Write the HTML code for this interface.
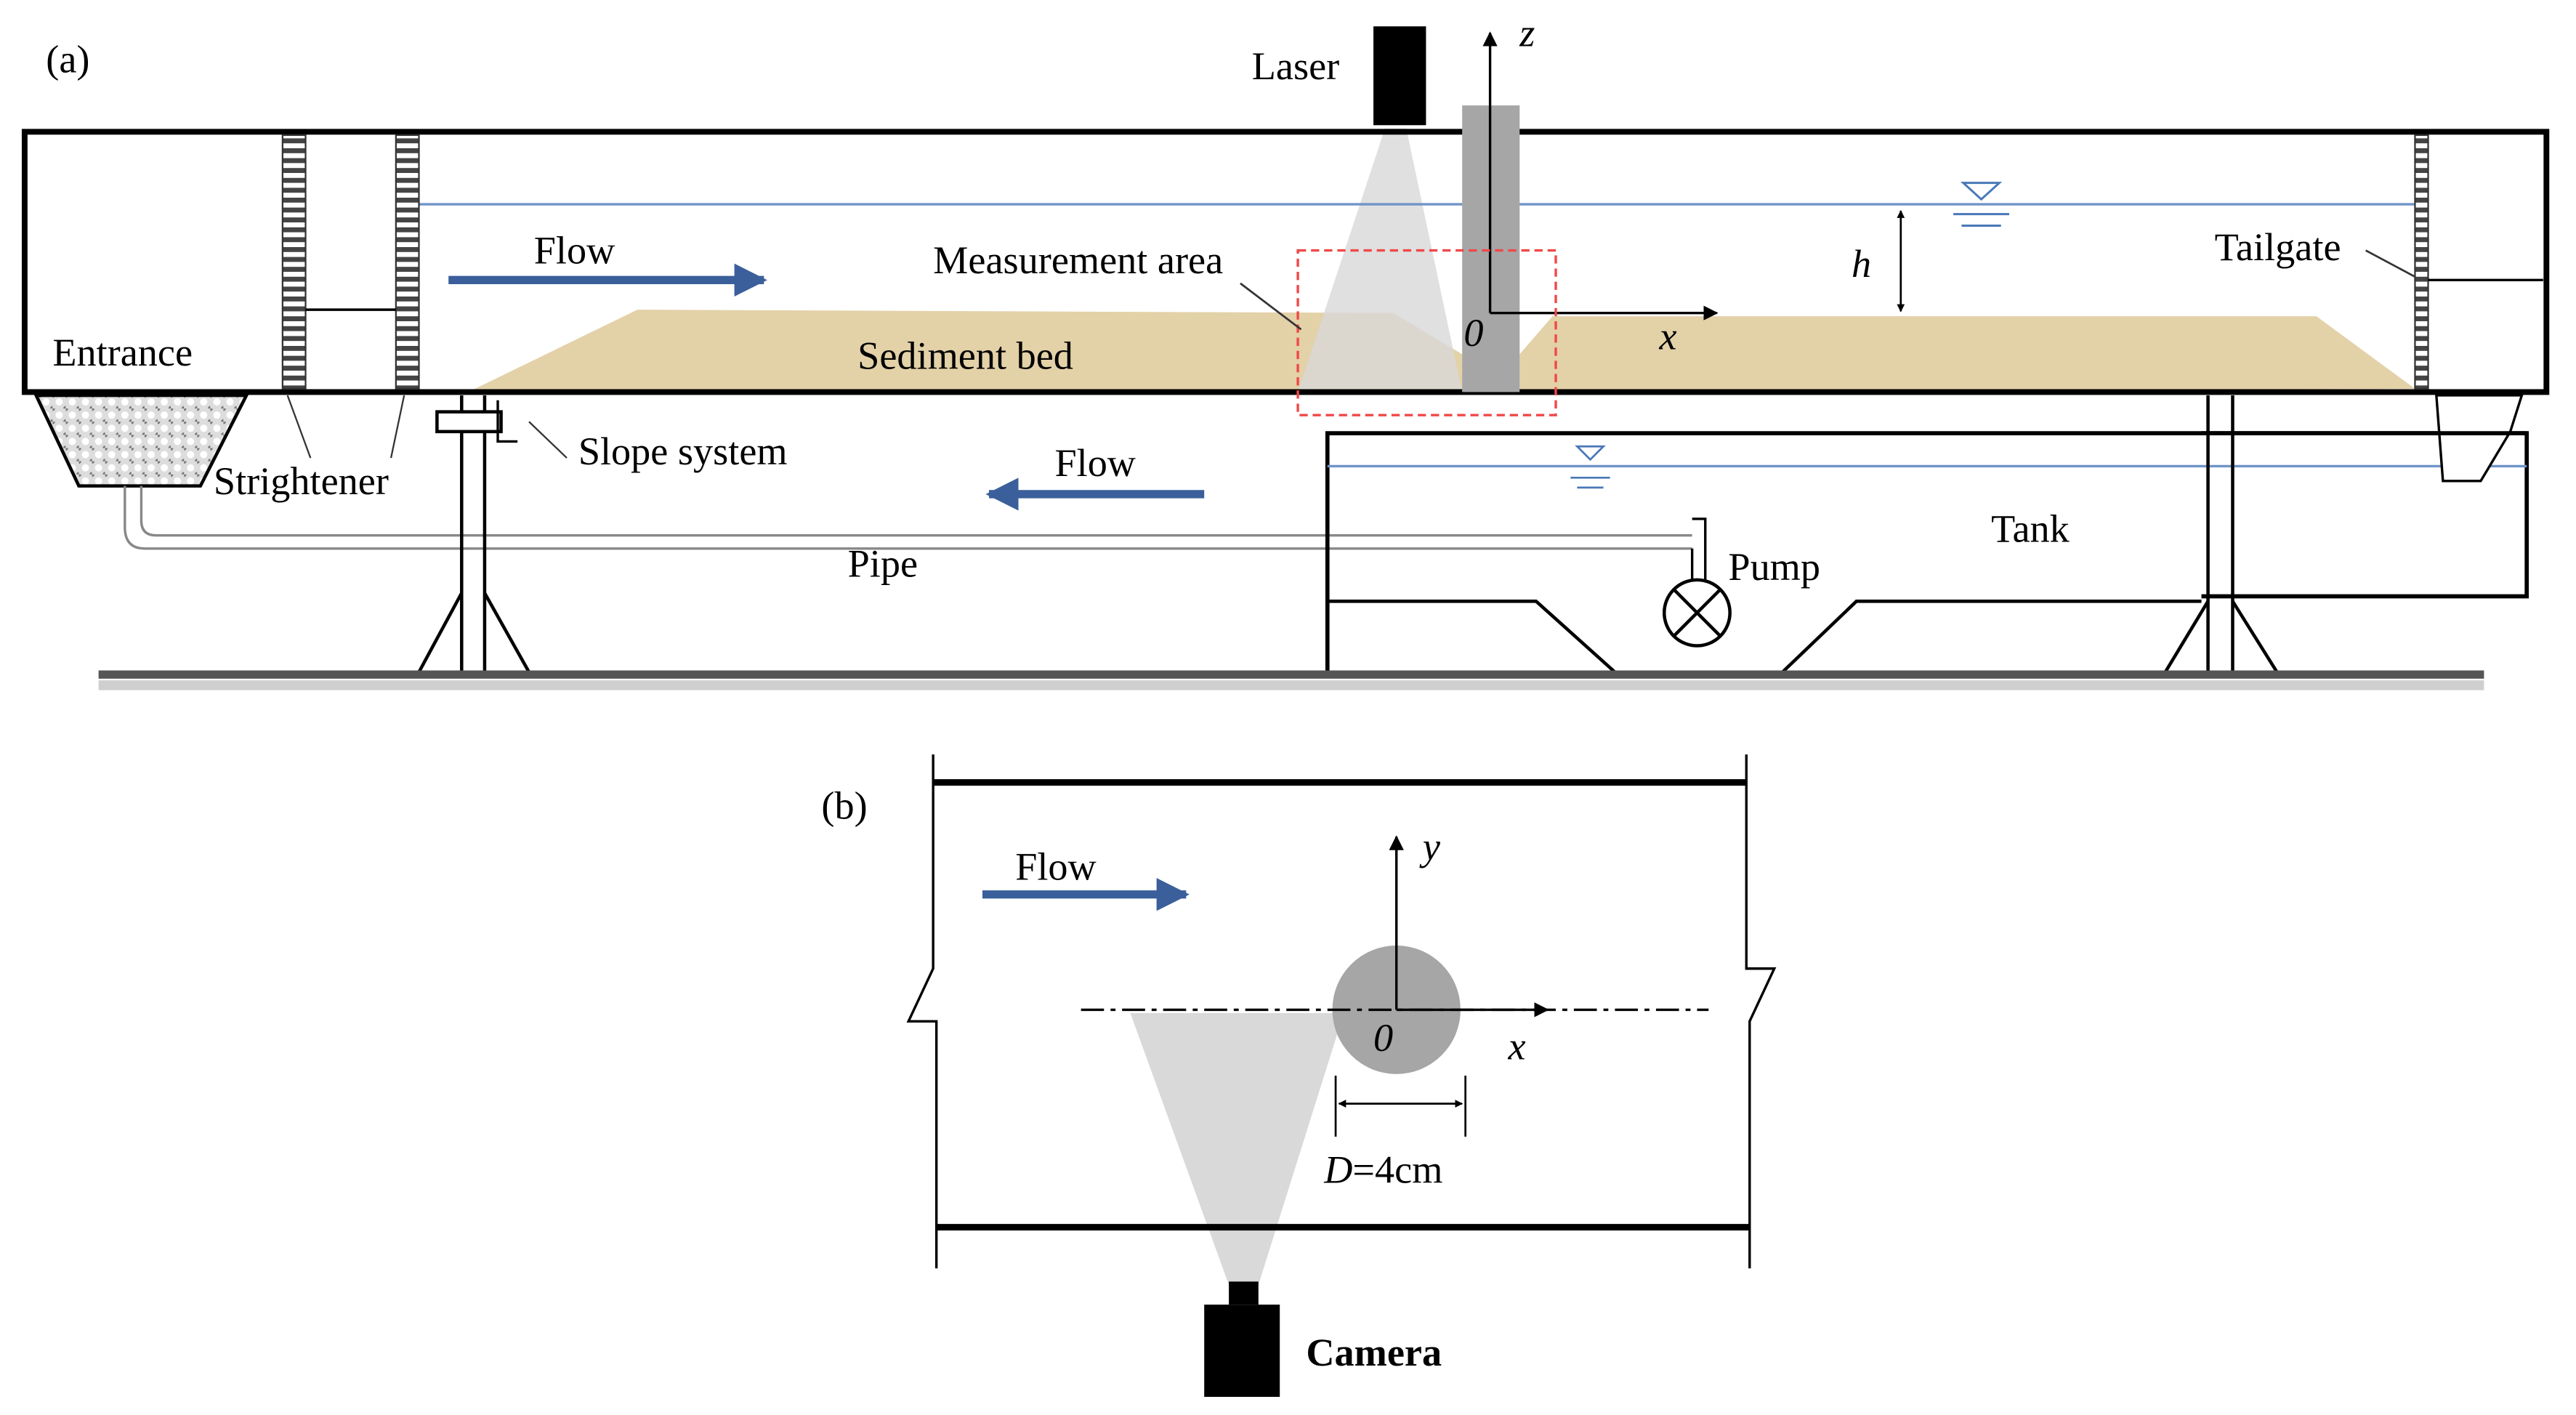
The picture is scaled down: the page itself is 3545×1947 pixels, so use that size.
<!DOCTYPE html>
<html><head><meta charset="utf-8"><style>
html,body{margin:0;padding:0;background:#fff;width:3545px;height:1947px;overflow:hidden}
svg{display:block}
text{font-family:"Liberation Serif",serif;font-size:24px;fill:#000}
</style></head><body>
<svg width="3545" height="1947" viewBox="0 0 1568 859" preserveAspectRatio="none" xmlns="http://www.w3.org/2000/svg">
<defs>
<marker id="ah" viewBox="0 0 10 10" refX="9" refY="5" markerWidth="6" markerHeight="6" orient="auto-start-reverse"><path d="M0,0L10,5L0,10z" fill="#000"/></marker>
<marker id="ahs" viewBox="0 0 10 10" refX="9" refY="5" markerWidth="4" markerHeight="4" orient="auto-start-reverse"><path d="M0,0L10,5L0,10z" fill="#000"/></marker>
<marker id="bh" viewBox="0 0 10 10" refX="9" refY="5" markerWidth="4" markerHeight="4" orient="auto-start-reverse"><path d="M0,0L10,5L0,10z" fill="#3a5f9a"/></marker>
<pattern id="hatch" width="14" height="6" patternUnits="userSpaceOnUse"><rect width="14" height="6" fill="#fff"/><rect width="14" height="3" fill="#444"/></pattern>
<pattern id="mesh" width="8" height="8" patternUnits="userSpaceOnUse"><rect width="8" height="8" fill="#ddd"/><circle cx="4" cy="4" r="2.2" fill="#fff"/><circle cx="0" cy="0" r="1.5" fill="#777"/><circle cx="8" cy="8" r="1.5" fill="#777"/></pattern>
</defs>
<text x="28" y="44">(a)</text>
<polygon points="285,238 388,188 848,190 890,215 890,238" fill="#e3d1a8"/>
<polygon points="925,238 925,215 945,192 1410,192 1470,236" fill="#e3d1a8"/>
<polygon points="843,78 856,78 890,238 790,238" fill="#d8d8d8" opacity="0.8"/>
<rect x="15" y="80" width="1535" height="158" fill="none" stroke="#000" stroke-width="3.5"/>
<line x1="255" y1="124" x2="1475" y2="124" stroke="#6f94c8" stroke-width="1.5"/>
<rect x="172" y="82" width="14" height="154" fill="url(#hatch)" stroke="#333" stroke-width="1"/>
<rect x="241" y="82" width="14" height="154" fill="url(#hatch)" stroke="#333" stroke-width="1"/>
<line x1="186" y1="188" x2="241" y2="188" stroke="#000" stroke-width="1.5"/>
<rect x="1470" y="82" width="8" height="154" fill="url(#hatch)" stroke="#333" stroke-width="1"/>
<line x1="1478" y1="170" x2="1548" y2="170" stroke="#000" stroke-width="1.5"/>
<rect x="836" y="16" width="32" height="60" fill="#000"/>
<text x="762" y="48">Laser</text>
<rect x="890" y="64" width="35" height="174" fill="#a6a6a6"/>
<line x1="907" y1="190" x2="907" y2="20" stroke="#000" stroke-width="1.5" marker-end="url(#ah)"/>
<line x1="907" y1="190" x2="1045" y2="190" stroke="#000" stroke-width="1.5" marker-end="url(#ah)"/>
<text x="925" y="28" font-style="italic">z</text>
<text x="1010" y="212" font-style="italic">x</text>
<text x="891" y="210" font-style="italic">0</text>
<rect x="790" y="152" width="157" height="100" fill="none" stroke="#f04848" stroke-width="1.5" stroke-dasharray="5,3"/>
<text x="568" y="166">Measurement area</text>
<line x1="755" y1="172" x2="792" y2="200" stroke="#333" stroke-width="1.2"/>
<text x="522" y="224">Sediment bed</text>
<line x1="273" y1="170" x2="465" y2="170" stroke="#3a5f9a" stroke-width="5" marker-end="url(#bh)"/>
<text x="325" y="160">Flow</text>
<line x1="1157" y1="128" x2="1157" y2="189" stroke="#000" stroke-width="1.2" marker-start="url(#ahs)" marker-end="url(#ahs)"/>
<text x="1127" y="168" font-style="italic">h</text>
<polygon points="1195,111 1217,111 1206,121" fill="none" stroke="#4a78b8" stroke-width="1.3"/>
<line x1="1189" y1="130" x2="1223" y2="130" stroke="#4a78b8" stroke-width="1.3"/>
<line x1="1194" y1="137" x2="1218" y2="137" stroke="#4a78b8" stroke-width="1.3"/>
<text x="1348" y="158">Tailgate</text>
<line x1="1440" y1="152" x2="1470" y2="168" stroke="#333" stroke-width="1.2"/>
<text x="32" y="222">Entrance</text>
<polygon points="22,240 150,240 122,295 48,295" fill="url(#mesh)" stroke="#000" stroke-width="2"/>
<text x="130" y="300">Strightener</text>
<line x1="175" y1="240" x2="189" y2="278" stroke="#333" stroke-width="1"/>
<line x1="246" y1="240" x2="238" y2="278" stroke="#333" stroke-width="1"/>
<path d="M86,295 V316 Q86,325 95,325 H1030" fill="none" stroke="#888" stroke-width="1.5"/>
<path d="M76,295 V320 Q76,333 88,333 H1030" fill="none" stroke="#888" stroke-width="1.5"/>
<path d="M1030,315 H1038 V352 M1030,333 V352" fill="none" stroke="#000" stroke-width="1.5"/>
<circle cx="1033" cy="372" r="20" fill="#fff" stroke="#000" stroke-width="2"/>
<path d="M1019,358L1047,386M1047,358L1019,386" stroke="#000" stroke-width="2"/>
<line x1="281" y1="240" x2="281" y2="408" stroke="#000" stroke-width="2"/>
<line x1="295" y1="240" x2="295" y2="408" stroke="#000" stroke-width="2"/>
<rect x="266" y="250" width="39" height="12" fill="#fff" stroke="#000" stroke-width="2"/>
<path d="M303,243 V268 H315" fill="none" stroke="#000" stroke-width="1.5"/>
<path d="M281,360 L255,408 M295,360 L322,408" stroke="#000" stroke-width="2"/>
<line x1="322" y1="256" x2="345" y2="278" stroke="#333" stroke-width="1"/>
<text x="352" y="282">Slope system</text>
<line x1="733" y1="300" x2="602" y2="300" stroke="#3a5f9a" stroke-width="5" marker-end="url(#bh)"/>
<text x="642" y="289">Flow</text>
<text x="516" y="350">Pipe</text>
<text x="1052" y="352">Pump</text>
<text x="1212" y="329">Tank</text>
<path d="M808,408 V263 H1538 V362 H1340" fill="none" stroke="#000" stroke-width="2.5"/>
<path d="M808,365 H935 L983,408 M1085,408 L1130,365 H1340" fill="none" stroke="#000" stroke-width="2"/>
<line x1="808" y1="283" x2="1538" y2="283" stroke="#6f94c8" stroke-width="1.5"/>
<polygon points="960,271 976,271 968,279" fill="none" stroke="#4a78b8" stroke-width="1.2"/>
<line x1="956" y1="290" x2="980" y2="290" stroke="#4a78b8" stroke-width="1.2"/>
<line x1="960" y1="296" x2="976" y2="296" stroke="#4a78b8" stroke-width="1.2"/>
<line x1="1344" y1="240" x2="1344" y2="408" stroke="#000" stroke-width="2"/>
<line x1="1359" y1="240" x2="1359" y2="408" stroke="#000" stroke-width="2"/>
<path d="M1344,365 L1318,408 M1359,365 L1386,408" stroke="#000" stroke-width="2"/>
<polygon points="1483,240 1535,240 1528,262 1510,292 1487,292" fill="#fff" stroke="#000" stroke-width="1.5"/>
<line x1="1340" y1="263" x2="1538" y2="263" stroke="#000" stroke-width="2.5"/>
<rect x="60" y="407" width="1452" height="5" fill="#555"/>
<rect x="60" y="413" width="1452" height="6" fill="#bbb" opacity="0.7"/>

<text x="500" y="497">(b)</text>
<polygon points="688,615 818,615 766,780 748,780" fill="#d9d9d9"/>
<line x1="568" y1="475" x2="1063" y2="475" stroke="#000" stroke-width="4"/>
<line x1="570" y1="745" x2="1065" y2="745" stroke="#000" stroke-width="4"/>
<path d="M568,458 V588 L553,620 H570 V770" fill="none" stroke="#000" stroke-width="1.5"/>
<path d="M1063,458 V588 H1080 L1065,620 V770" fill="none" stroke="#000" stroke-width="1.5"/>
<line x1="598" y1="543" x2="722" y2="543" stroke="#3a5f9a" stroke-width="5" marker-end="url(#bh)"/>
<text x="618" y="534">Flow</text>
<circle cx="850" cy="613" r="39" fill="#a6a6a6"/>
<line x1="658" y1="613" x2="1040" y2="613" stroke="#000" stroke-width="1.5" stroke-dasharray="14,4,3,4"/>
<line x1="850" y1="613" x2="942" y2="613" stroke="#000" stroke-width="1.5" marker-end="url(#ah)"/>
<line x1="850" y1="613" x2="850" y2="508" stroke="#000" stroke-width="1.5" marker-end="url(#ah)"/>
<text x="866" y="522" font-style="italic">y</text>
<text x="918" y="643" font-style="italic">x</text>
<text x="836" y="638" font-style="italic">0</text>
<line x1="813" y1="653" x2="813" y2="690" stroke="#000" stroke-width="1.2"/>
<line x1="892" y1="653" x2="892" y2="690" stroke="#000" stroke-width="1.2"/>
<line x1="815" y1="670" x2="890" y2="670" stroke="#000" stroke-width="1.2" marker-start="url(#ahs)" marker-end="url(#ahs)"/>
<text x="806" y="718"><tspan font-style="italic">D</tspan>=4cm</text>
<rect x="748" y="778" width="18" height="14" fill="#000"/>
<rect x="733" y="792" width="46" height="56" fill="#000"/>
<text x="795" y="829" font-weight="bold" font-size="26">Camera</text>
</svg>
</body></html>
